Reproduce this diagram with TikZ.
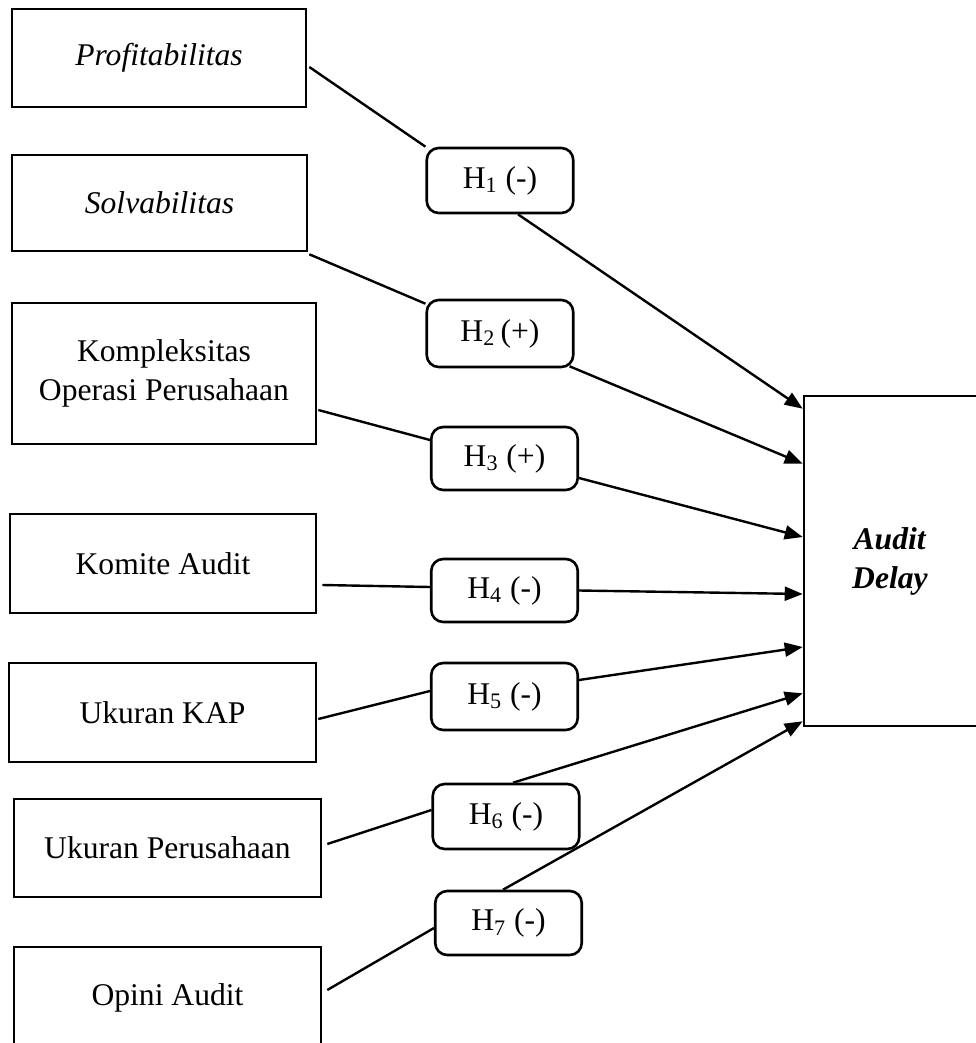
\documentclass[tikz,border=0pt]{standalone}
\usepackage{fontspec}
\setmainfont{Liberation Serif}
\usetikzlibrary{arrows.meta}
\begin{document}
\begin{tikzpicture}[x=0.5pt,y=-0.5pt,
 box/.style={draw,line width=1.3pt,inner sep=0pt,align=center,font=\fontsize{15.8}{19.5}\selectfont},
 hyp/.style={draw,line width=1.3pt,rounded corners=6pt,inner sep=0pt,minimum width=73.25pt,font=\fontsize{15.8}{19.5}\selectfont},
 link/.style={line width=1.2pt},
 arr/.style={line width=1.2pt,-{Triangle[length=9pt,width=7pt]}}]
\useasboundingbox (0,0) rectangle (975,1043);
% left variable boxes
\node[box,minimum width=147pt,minimum height=49pt] (P) at (159,58) {\textit{Profitabilitas}};
\node[box,minimum width=147.5pt,minimum height=48pt] (S) at (159.5,203) {\textit{Solvabilitas}};
\node[box,minimum width=152pt,minimum height=70.5pt] (K) at (164,373.5) {Kompleksitas\\Operasi Perusahaan};
\node[box,minimum width=153pt,minimum height=49.5pt] (KA) at (163,563.5) {Komite Audit};
\node[box,minimum width=153.5pt,minimum height=49.5pt] (KAP) at (162.5,712.5) {Ukuran KAP};
\node[box,minimum width=153.5pt,minimum height=49pt] (UP) at (167.5,848) {Ukuran Perusahaan};
\node[box,minimum width=153.5pt,minimum height=51pt] (OA) at (167.5,998) {Opini Audit};
% dependent variable (right edge lies beyond the picture)
\node[box,minimum width=100pt,minimum height=165pt] (AD) at (904,561) {\hspace*{-14pt}\textbf{\textit{Audit}}\\\hspace*{-14pt}\textbf{\textit{Delay}}};
% hypothesis boxes
\node[hyp,minimum height=32.5pt] (H1) at (500,180.5) {H\textsubscript{1} (-)};
\node[hyp,minimum height=33.5pt] (H2) at (500,333.5) {H\textsubscript{2}\,(+)};
\node[hyp,minimum height=31.5pt] (H3) at (504.5,458.5) {H\textsubscript{3} (+)};
\node[hyp,minimum height=31.5pt] (H4) at (504.5,590.5) {H\textsubscript{4} (-)};
\node[hyp,minimum height=33.5pt] (H5) at (504.5,696.5) {H\textsubscript{5} (-)};
\node[hyp,minimum height=32.5pt] (H6) at (506,816.5) {H\textsubscript{6} (-)};
\node[hyp,minimum height=32pt] (H7) at (508.5,923) {H\textsubscript{7} (-)};
% connectors: variable -> hypothesis
\draw[link] ([xshift=1pt,yshift=-4.5pt]P.east) -- (H1.north west);
\draw[link] ([xshift=0.5pt,yshift=-1pt]S.south east) -- ([yshift=-2.5pt]H2.north west);
\draw[link] ([xshift=0.5pt,yshift=-18.25pt]K.east) -- ([yshift=9.25pt]H3.west);
\draw[link] ([xshift=2.5pt,yshift=-10.75pt]KA.east) -- ([yshift=1.75pt]H4.west);
\draw[link] ([xshift=0.5pt,yshift=-3.25pt]KAP.east) -- ([yshift=2.75pt]H5.west);
\draw[link] ([xshift=2.5pt,yshift=2pt]UP.east) -- ([yshift=3.25pt]H6.west);
\draw[link] ([xshift=2.5pt,yshift=4pt]OA.east) -- ([yshift=-2.5pt]H7.west);
% connectors: hypothesis -> Audit Delay
\draw[arr] ([xshift=9pt]H1.south) -- ([yshift=-7pt]AD.north west);
\draw[arr] ([xshift=-2.5pt,yshift=1pt]H2.south east) -- ([yshift=-34.5pt]AD.north west);
\draw[arr] ([yshift=-9.75pt]H3.east) -- ([yshift=12pt]AD.west);
\draw[arr] (H4.east) -- ([yshift=-16.5pt]AD.west);
\draw[arr] ([yshift=8.25pt]H5.east) -- ([yshift=-43pt]AD.west);
\draw[arr] ([xshift=3.5pt]H6.north) -- ([yshift=17pt]AD.south west);
\draw[arr] ([xshift=-2.75pt]H7.north) -- ([yshift=3pt]AD.south west);
\end{tikzpicture}
\end{document}
